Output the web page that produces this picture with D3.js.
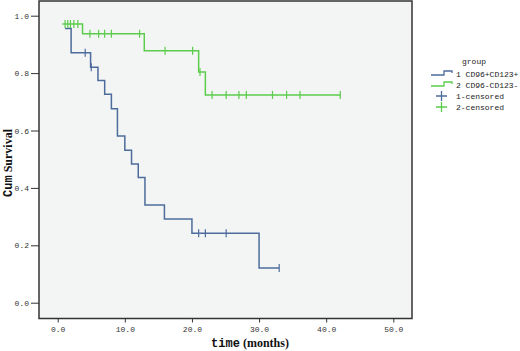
<!DOCTYPE html>
<html><head><meta charset="utf-8">
<script src="https://cdn.jsdelivr.net/npm/d3@7"></script>
<style>body{margin:0;background:#fff}svg{display:block}</style>
</head><body>
<svg id="c" width="520" height="351"></svg>
<script>
// Group 1: CD96+CD123+  (event times and survival after each event)
const g1Times = [1.1, 2.0, 4.9, 6.0, 7.0, 8.0, 8.9, 10.0, 11.0, 12.0, 13.0, 15.9, 20.0, 30.0];
const g1Surv  = [0.955, 0.871, 0.820, 0.774, 0.726, 0.676, 0.581, 0.531, 0.483, 0.436, 0.340, 0.292, 0.242, 0.121];
const g1End = 33.0;
const g1Censored = [4.1, 5.0, 21.0, 22.0, 25.1, 33.0];
// Group 2: CD96-CD123-
const g2Times = [0.7, 3.7, 12.9, 21.0, 22.0];
const g2Surv  = [0.971, 0.937, 0.878, 0.804, 0.724];
const g2End = 42.1;
const g2Censored = [1.1, 1.5, 1.9, 2.4, 3.0, 4.8, 6.1, 7.0, 8.0, 12.2, 16.0, 20.1, 21.2, 23.0, 25.1, 27.0, 28.1, 32.0, 34.1, 36.1, 42.1];
const xTicks = [0, 10, 20, 30, 40, 50];
const yTicks = [0, 0.2, 0.4, 0.6, 0.8, 1.0];
const legendLabels = ["1 CD96+CD123+", "2 CD96-CD123-", "1-censored", "2-censored"];

const blue = "#4d6c9c", green = "#5ccc4c";
const svg = d3.select("#c");
const x = d3.scaleLinear().domain([0, 50]).range([57.7, 393.3]);
const y = d3.scaleLinear().domain([0, 1]).range([302.7, 15.7]);
const box = {l: 39, r: 412, t: 1, b: 318.5};

svg.append("rect").attr("x", box.l).attr("y", box.t).attr("width", box.r - box.l).attr("height", box.b - box.t)
  .attr("fill", "#f3f5f4").attr("stroke", "#333").attr("stroke-width", 1.5);

const mono = "'Liberation Mono','DejaVu Sans Mono',monospace";

const yAxis = svg.append("g").attr("transform", `translate(${box.l},0)`)
  .call(d3.axisLeft(y).tickValues(yTicks).tickFormat(d3.format(".1f")).tickSize(8).tickPadding(2).tickSizeOuter(0));
yAxis.select(".domain").remove();
yAxis.selectAll("line").attr("stroke", "#333");
yAxis.selectAll("text").attr("font-family", mono).attr("font-size", 8).attr("fill", "#333");

const xAxis = svg.append("g").attr("transform", `translate(0,${box.b})`)
  .call(d3.axisBottom(x).tickValues(xTicks).tickFormat(d3.format(".1f")).tickSize(4).tickPadding(4).tickSizeOuter(0));
xAxis.select(".domain").remove();
xAxis.selectAll("line").attr("stroke", "#333");
xAxis.selectAll("text").attr("font-family", mono).attr("font-size", 8).attr("fill", "#333");

function stepPoints(times, surv, end) {
  const pts = times.map((t, i) => [t, surv[i]]);
  pts.push([end, surv[surv.length - 1]]);
  return pts;
}
function survAt(times, surv, t) {
  let s = surv[0];
  for (let i = 0; i < times.length; i++) if (times[i] <= t) s = surv[i];
  return s;
}
const line = d3.line().x(d => x(d[0])).y(d => y(d[1])).curve(d3.curveStepAfter);

[[g1Times, g1Surv, g1End, g1Censored, blue], [g2Times, g2Surv, g2End, g2Censored, green]].forEach(([ts, ss, end, cens, col]) => {
  svg.append("path").attr("d", line(stepPoints(ts, ss, end))).attr("fill", "none")
    .attr("stroke", col).attr("stroke-width", 1.5);
  svg.append("g").selectAll("line").data(cens).join("line")
    .attr("x1", d => x(d)).attr("x2", d => x(d))
    .attr("y1", d => y(survAt(ts, ss, d)) - 4).attr("y2", d => y(survAt(ts, ss, d)) + 4)
    .attr("stroke", col).attr("stroke-width", 1.2);
});

// Axis titles
const yt = svg.append("text").attr("transform", "translate(12,163) rotate(-90)").attr("text-anchor", "middle")
  .attr("font-weight", "bold").attr("font-size", 12).attr("fill", "#111");
yt.append("tspan").attr("font-family", mono).text("Cum");
yt.append("tspan").attr("font-family", "'Liberation Serif',serif").text(" Survival");
const xt = svg.append("text").attr("x", 250).attr("y", 347).attr("text-anchor", "middle")
  .attr("font-weight", "bold").attr("font-size", 12).attr("fill", "#111");
xt.append("tspan").attr("font-family", mono).text("time");
xt.append("tspan").attr("font-family", "'Liberation Serif',serif").text(" (months)");

// Legend
const lg = svg.append("g").attr("font-family", mono).attr("font-size", 8).attr("fill", "#222");
lg.append("text").attr("x", 462).attr("y", 64).text("group");
const rowY = [75, 86, 97, 108];
const cols = [blue, green, blue, green];
legendLabels.forEach((lab, i) => {
  const yy = rowY[i];
  if (i < 2) {
    lg.append("path").attr("d", `M431,${yy} H444 V${yy - 4} H452 V${yy - 2}`).attr("fill", "none")
      .attr("stroke", cols[i]).attr("stroke-width", 1.3);
  } else {
    lg.append("path").attr("d", `M436,${yy - 1} H447 M441.5,${yy - 6} V${yy + 4}`).attr("fill", "none")
      .attr("stroke", cols[i]).attr("stroke-width", 1.3);
  }
  lg.append("text").attr("x", 456).attr("y", yy + 2).text(lab);
});
</script>
</body></html>
